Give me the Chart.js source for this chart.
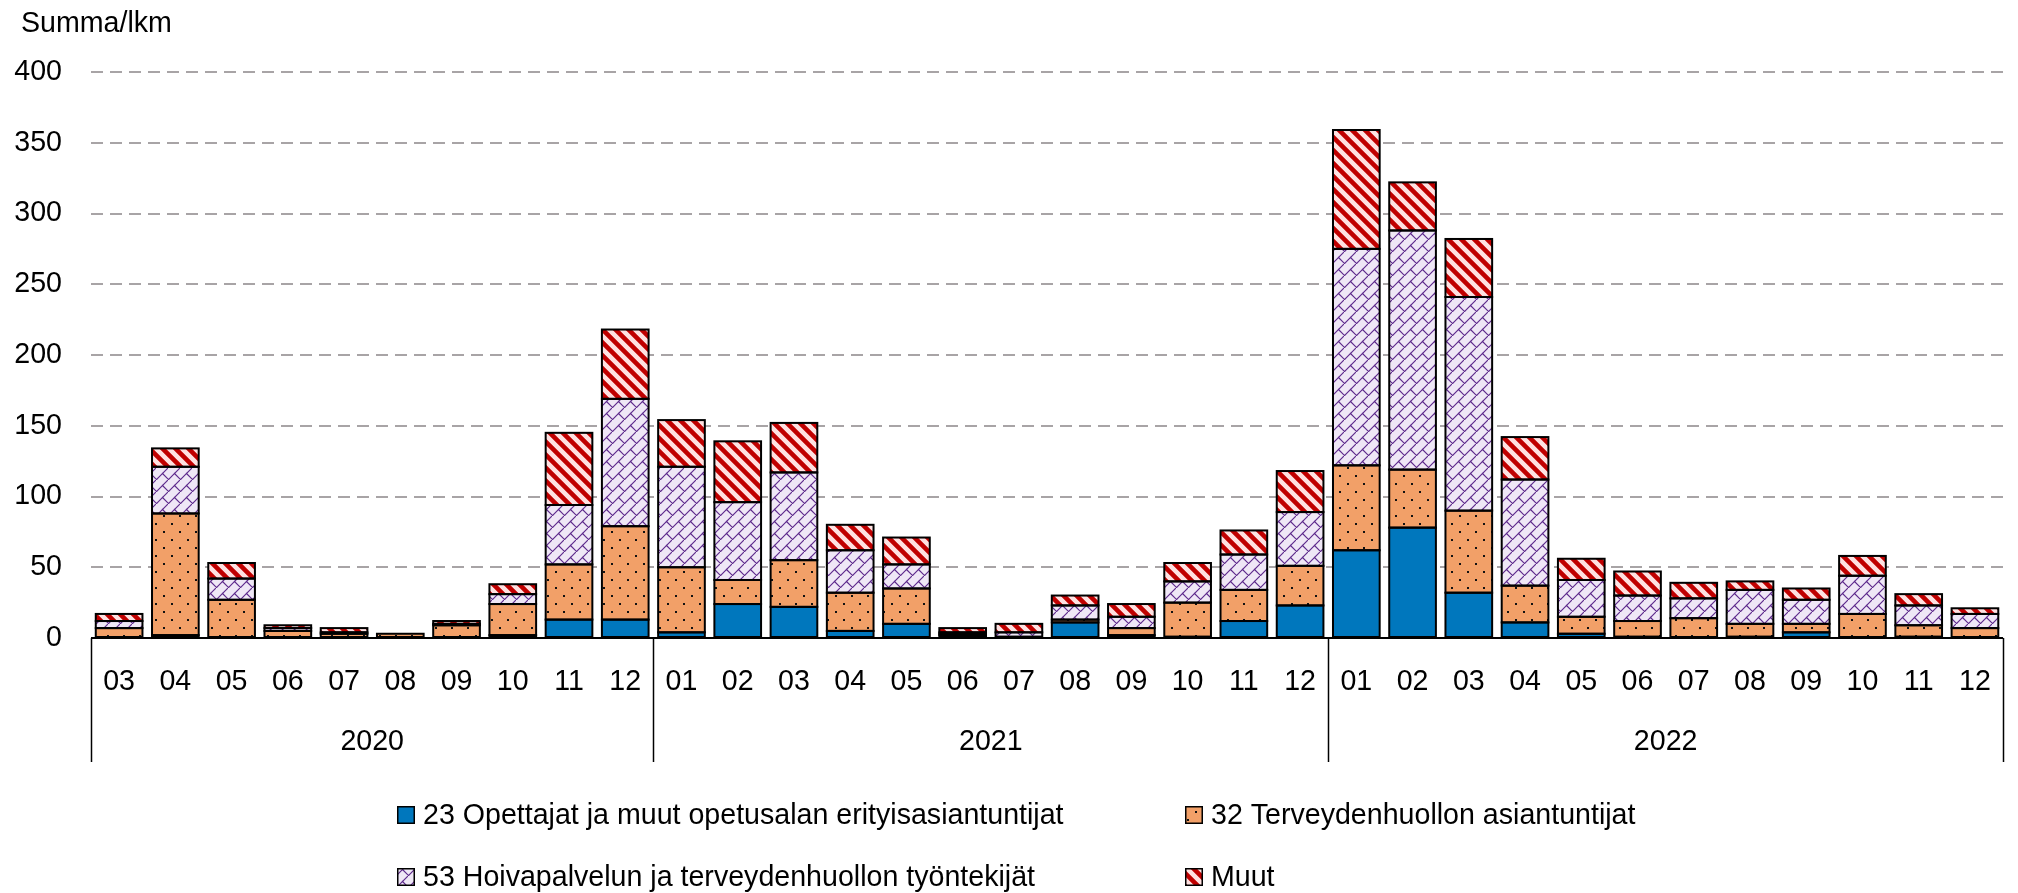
<!DOCTYPE html>
<html>
<head>
<meta charset="utf-8">
<script src="https://cdn.jsdelivr.net/npm/chart.js@4.4.1/dist/chart.umd.min.js"></script>
<style>
html,body{margin:0;padding:0;background:#fff;}
#wrap{width:2018px;height:893px;position:relative;}
</style>
</head>
<body>
<div id="wrap"><canvas id="c" width="2018" height="893"></canvas></div>
<script>
// ---------- DATA ----------
const monthLabels = [
  '03','04','05','06','07','08','09','10','11','12',
  '01','02','03','04','05','06','07','08','09','10','11','12',
  '01','02','03','04','05','06','07','08','09','10','11','12'
];
const yearLabels = ['2020', '2021', '2022'];
const yearSpans = [10, 12, 12];
const seriesNames = [
  '23 Opettajat ja muut opetusalan erityisasiantuntijat',
  '32 Terveydenhuollon asiantuntijat',
  '53 Hoivapalvelun ja terveydenhuollon työntekijät',
  'Muut'
];
const s23 = [
  0, 2, 0, 0, 0, 0, 0, 2, 13, 13,
  4, 24, 22, 5, 10, 2, 0, 11, 2, 1, 12, 23,
  62, 78, 32, 11, 3, 1, 0, 1, 4, 0, 1, 0
];
const s32 = [
  7, 86, 27, 5, 3, 3, 9, 22, 39, 66,
  46, 17, 33, 27, 25, 1, 1, 2, 5, 24, 22, 28,
  60, 41, 58, 26, 12, 11, 14, 9, 6, 17, 8, 7
];
const s53 = [
  5, 33, 15, 2, 1, 0, 1, 7, 42, 90,
  71, 55, 62, 30, 17, 1, 3, 10, 8, 15, 25, 38,
  153, 169, 151, 75, 26, 18, 14, 24, 17, 27, 14, 10
];
const sMuut = [
  5, 13, 11, 2, 3, 0, 2, 7, 51, 49,
  33, 43, 35, 18, 19, 3, 6, 7, 9, 13, 17, 29,
  84, 34, 41, 30, 15, 17, 11, 6, 8, 14, 8, 4
];
const yTickMin = 0, yTickMax = 400, yTickStep = 50;
const yTitle = 'Summa/lkm';

// ---------- STYLES ----------
const FONT = '"Liberation Sans", Arial, sans-serif';
const FS = 28.6;
const canvas = document.getElementById('c');
const mainCtx = canvas.getContext('2d');

function makePattern(size, draw) {
  const t = document.createElement('canvas');
  t.width = size; t.height = size;
  const g = t.getContext('2d');
  draw(g, size);
  return mainCtx.createPattern(t, 'repeat');
}
const blueFill = '#0077BD';
const orangeFill = makePattern(16, (g, s) => {
  g.fillStyle = '#F2A068'; g.fillRect(0, 0, s, s);
  g.fillStyle = '#111';
  g.fillRect(3, 3, 2, 2);
  g.fillRect(11, 11, 2, 2);
});
const purpleFill = makePattern(12, (g, s) => {
  g.fillStyle = '#EFE7F6'; g.fillRect(0, 0, s, s);
  g.strokeStyle = '#5E2A8C'; g.lineWidth = 1.2;
  g.beginPath();
  // diagonal brick: "/" lines plus "\" joints
  g.moveTo(-1, s + 1); g.lineTo(s + 1, -1);
  g.moveTo(s / 2, s / 2 - 1); g.lineTo(s + 1, s);
  g.moveTo(s / 2 - s, s / 2 - 1); g.lineTo(1, s);
  g.moveTo(s / 2, s / 2 - 1 - s); g.lineTo(s + 1, 0);
  g.stroke();
});
const redFill = makePattern(13, (g, s) => {
  g.fillStyle = '#FFE1E1'; g.fillRect(0, 0, s, s);
  g.strokeStyle = '#C00000'; g.lineWidth = 4.6;
  g.beginPath();
  for (const c of [-s, 0, s]) { g.moveTo(-2, c - 2); g.lineTo(s + 2, s + c + 2); }
  g.stroke();
});
const fills = [blueFill, orangeFill, purpleFill, redFill];
const seriesData = [s23, s32, s53, sMuut];

// ---------- PLUGINS ----------
const segmentBorders = {
  id: 'segmentBorders',
  afterDatasetsDraw(chart) {
    const ctx = chart.ctx;
    ctx.save();
    ctx.strokeStyle = '#000';
    ctx.lineWidth = 2;
    chart.data.datasets.forEach((ds, di) => {
      const meta = chart.getDatasetMeta(di);
      meta.data.forEach(el => {
        const p = el.getProps(['x', 'y', 'base', 'width'], true);
        const h = Math.abs(p.base - p.y);
        if (h < 0.5) return;
        ctx.strokeRect(p.x - p.width / 2, Math.min(p.y, p.base), p.width, h);
      });
    });
    ctx.restore();
  }
};

const extras = {
  id: 'extras',
  afterDraw(chart) {
    const ctx = chart.ctx;
    const xs = chart.scales.x;
    const n = monthLabels.length;
    const step = (xs.right - xs.left) / n;
    const axisY = chart.chartArea.bottom;
    ctx.save();
    // axis line
    ctx.strokeStyle = '#000'; ctx.lineWidth = 2;
    ctx.beginPath(); ctx.moveTo(xs.left, axisY); ctx.lineTo(xs.right, axisY); ctx.stroke();
    // separators and year labels
    ctx.lineWidth = 1.5;
    let idx = 0;
    const bounds = [0];
    yearSpans.forEach(sp => { idx += sp; bounds.push(idx); });
    bounds.forEach(b => {
      const x = Math.round(xs.left + b * step) + 0.5;
      ctx.beginPath(); ctx.moveTo(x, axisY); ctx.lineTo(x, 762); ctx.stroke();
    });
    ctx.fillStyle = '#000';
    ctx.font = FS + 'px ' + FONT;
    ctx.textAlign = 'center'; ctx.textBaseline = 'middle';
    yearLabels.forEach((yl, i) => {
      const xc = xs.left + (bounds[i] + bounds[i + 1]) / 2 * step;
      ctx.fillText(yl, xc, 742);
    });
    // y title
    ctx.textAlign = 'left';
    ctx.fillText(yTitle, 21, 24);
    // legend
    const cols = [397, 1185], rows = [815, 877];
    chart.data.datasets.forEach((ds, i) => {
      const x = cols[i % 2], y = rows[Math.floor(i / 2)];
      ctx.fillStyle = ds.backgroundColor;
      ctx.fillRect(x, y - 9, 18, 18);
      ctx.strokeStyle = '#000'; ctx.lineWidth = 1.5;
      ctx.strokeRect(x + 0.75, y - 8.25, 16.5, 16.5);
      ctx.fillStyle = '#000';
      ctx.textAlign = 'left'; ctx.textBaseline = 'middle';
      ctx.fillText(ds.label, x + 26, y + 1);
    });
    ctx.restore();
  }
};

new Chart(mainCtx, {
  type: 'bar',
  data: {
    labels: monthLabels,
    datasets: seriesNames.map((name, i) => ({
      label: name,
      data: seriesData[i],
      backgroundColor: fills[i],
      borderWidth: 0,
      barPercentage: 0.83,
      categoryPercentage: 1.0
    }))
  },
  options: {
    responsive: false,
    animation: false,
    devicePixelRatio: 1,
    layout: { padding: { top: 72, right: 11, left: 0, bottom: 0 } },
    plugins: { legend: { display: false }, tooltip: { enabled: false }, title: { display: false } },
    scales: {
      x: {
        stacked: true,
        grid: { display: false, drawTicks: false },
        border: { display: false },
        ticks: {
          color: '#000', autoSkip: false, maxRotation: 0, minRotation: 0,
          padding: 27, font: { family: FONT, size: FS, lineHeight: 1.2 }
        },
        afterFit(s) { s.height = 255; }
      },
      y: {
        stacked: true,
        min: yTickMin, max: yTickMax,
        grid: { color: '#A8A4A6', lineWidth: 2, drawTicks: false },
        border: { display: false, dash: [12, 7] },
        ticks: {
          stepSize: yTickStep, color: '#000', padding: 29,
          font: { family: FONT, size: FS, lineHeight: 1.2 }
        },
        afterFit(s) { s.width = 91; }
      }
    }
  },
  plugins: [segmentBorders, extras]
});
</script>
</body>
</html>
